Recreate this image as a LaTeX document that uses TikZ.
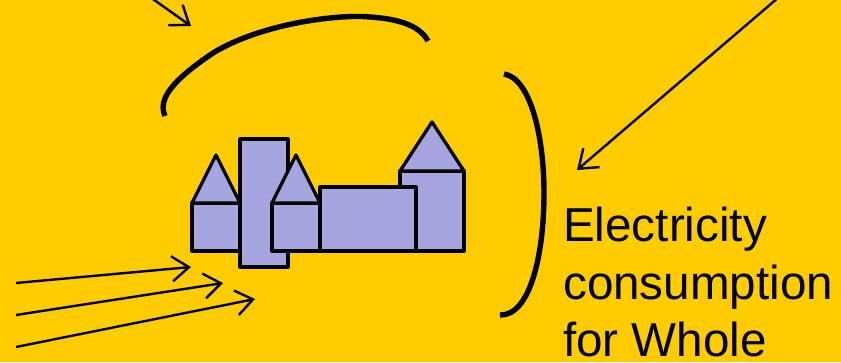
\documentclass[tikz,border=0pt]{standalone}
\usepackage{xcolor}
\usepackage{fontspec}
\usetikzlibrary{arrows.meta,positioning}
\setmainfont{Liberation Sans}
\definecolor{bgyellow}{HTML}{FFCC00}
\definecolor{castleblue}{HTML}{A5A5E0}

\begin{document}
\begin{tikzpicture}[x=1pt,y=-1pt, block/.style={draw=black,line width=3.3pt,fill=castleblue,line join=round}, arc/.style={draw=black,line width=5.4pt}, arr/.style={-{Straight Barb[length=17pt,width=25pt,line width=2.4pt]},line width=2.4pt}, lbl/.style={align=left,inner sep=0pt,anchor=north west,font=\fontsize{47.6}{57.5}\selectfont}]
\useasboundingbox (0,0) rectangle (841,362);
\clip (0,0) rectangle (841,362);
\fill[bgyellow] (0,0) rectangle (841,362);
% castle
\draw[block] (192,203) rectangle (240,251); \draw[block] (192,203)--(216,155)--(240,203)--cycle;
\draw[block] (400,171) rectangle (464,251); \draw[block] (400,171)--(432,122)--(464,171)--cycle;
\draw[block] (240,139) rectangle (288,267);
\draw[block] (272,203) rectangle (320,251); \draw[block] (272,203)--(296,155)--(320,203)--cycle;
\draw[block] (320,187) rectangle (416,251);
% arcs
\draw[arc] (165,116) .. controls (158,100) and (170,82) .. (213,53) .. controls (262,23) and (340,14) .. (370,17) .. controls (400,19) and (420,26) .. (428,41);
\draw[arc] (504,74) .. controls (530,78) and (544,135) .. (544,193) .. controls (544,255) and (530,316) .. (500,315);
% arrows
\coordinate (sunstart) at (150,-3); \coordinate (suntip) at (191,26);
\coordinate (skystart) at (779,-3); \coordinate (skytip) at (577,170);
\coordinate (windastart) at (16,283); \coordinate (windatip) at (191,267);
\coordinate (windbstart) at (16,315); \coordinate (windbtip) at (223,283);
\coordinate (windcstart) at (16,347); \coordinate (windctip) at (255,299);
\draw[arr] (sunstart)--(suntip);\draw[arr] (skystart)--(skytip);\draw[arr] (windastart)--(windatip);\draw[arr] (windbstart)--(windbtip);\draw[arr] (windcstart)--(windctip);
\node[lbl] (elec) at (563,207) {Electricity\\consumption\\for Whole};
\end{tikzpicture}
\end{document}
